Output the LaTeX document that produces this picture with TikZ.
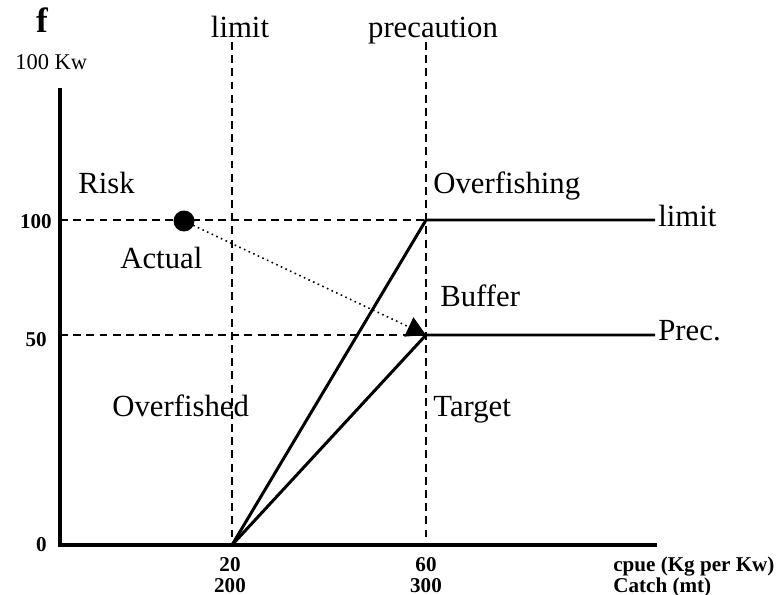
\documentclass[tikz,border=0pt]{standalone}
\usepackage{fontspec}
\setmainfont{Liberation Serif}
\usepackage{tikz}
\usetikzlibrary{arrows.meta, positioning, calc}

\begin{document}
\begin{tikzpicture}[x=0.02cm, y=-0.02cm,
    axisline/.style={line width=2.8pt},
    refline/.style={line width=0.8pt, dash pattern=on 4.5pt off 3pt},
    ruleline/.style={line width=1.7pt},
    zonelabel/.style={font=\fontsize{17.5}{20}\selectfont, inner sep=0pt, anchor=base west},
    ticklabel/.style={font=\fontsize{12}{14}\selectfont\bfseries, inner sep=0pt, anchor=base}]
  \useasboundingbox (0,0) rectangle (776,594);

  % Reference points
  \coordinate (origin) at (60,545);
  \coordinate (ytop) at (60,88);
  \coordinate (xend) at (657,545);
  \coordinate (blim) at (232,545);
  \coordinate (bprec) at (426,545);
  \coordinate (tlim) at (232,42);
  \coordinate (tprec) at (426,42);
  \coordinate (f100) at (60,220);
  \coordinate (f50) at (60,335);
  \coordinate (knee100) at (426,220);
  \coordinate (knee50) at (426,335);
  \coordinate (end100) at (655,220);
  \coordinate (end50) at (655,335);

  % Dashed reference lines
  \draw[refline] (tlim) -- (blim);
  \draw[refline] (tprec) -- (bprec);
  \draw[refline] (f100) -- (knee100);
  \draw[refline] (f50) -- (knee50);

  % Harvest rules
  \draw[ruleline] (blim) -- (knee100) -- (end100);
  \draw[ruleline] (blim) -- (knee50) -- (end50);

  % Axes
  \draw[axisline] (ytop) -- (origin) -- (xend);

  % Actual state and move
  \node[circle, fill=black, minimum size=21*0.02cm, inner sep=0pt] (actual) at (184,221) {};
  \draw[dotted, line width=0.9pt, -{Triangle[length=10.8pt, width=12pt]}] (actual.center) -- (knee50);

  % Axis titles
  \node[font=\fontsize{20}{22}\selectfont\bfseries, inner sep=0pt, anchor=base] (ftitle) at (42,33) {f};
  \node[font=\fontsize{12.8}{14}\selectfont, inner sep=0pt, anchor=base west] (funit) at (15,70) {100 Kw};
  \node[zonelabel, anchor=base] (limtop) at (240,38) {limit};
  \node[zonelabel, anchor=base] (prectop) at (433,38) {precaution};

  % Zones
  \node[zonelabel] (risk) at (78,194) {Risk};
  \node[zonelabel] (overfishing) at (433,194) {Overfishing};
  \node[zonelabel] (actlabel) at (120,268) {Actual};
  \node[zonelabel] (buffer) at (440,306) {Buffer};
  \node[zonelabel] (overfished) at (112,416) {Overfished};
  \node[zonelabel] (target) at (433,416) {Target};
  \node[zonelabel] (limright) at (658,227) {limit};
  \node[zonelabel] (precright) at (658,340) {Prec.};

  % Tick labels
  \node[ticklabel, anchor=base east] (y100) at (52,229) {100};
  \node[ticklabel, anchor=base east] (y50) at (47,346) {50};
  \node[ticklabel, anchor=base east] (y0) at (47,551) {0};
  \node[ticklabel] (x20) at (230,571) {20};
  \node[ticklabel] (x60) at (426,571) {60};
  \node[ticklabel] (c200) at (230,592) {200};
  \node[ticklabel] (c300) at (426,592) {300};
  \node[ticklabel, anchor=base west] (cpue) at (613,571) {cpue (Kg per Kw)};
  \node[ticklabel, anchor=base west] (catch) at (613,592) {Catch (mt)};
\end{tikzpicture}
\end{document}
